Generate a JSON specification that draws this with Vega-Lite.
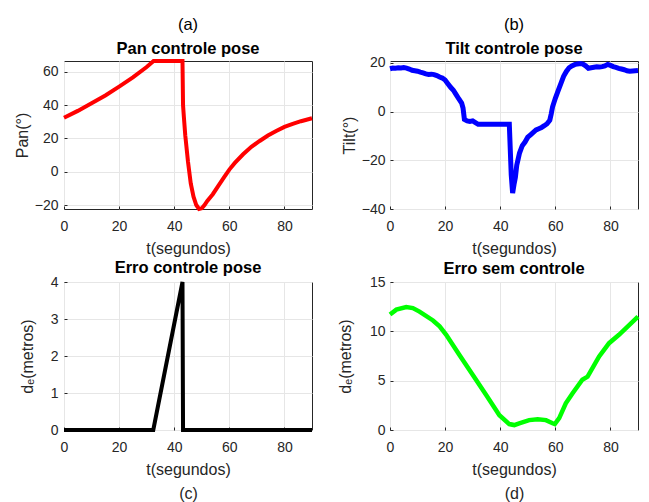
{
  "$schema": "https://vega.github.io/schema/vega-lite/v6.json",
  "padding": {"left": 13, "top": 16, "right": 0, "bottom": 0},
  "background": "white",
  "config": {
    "font": "Liberation Sans",
    "view": {"stroke": "#262626", "strokeWidth": 1},
    "axis": {
      "grid": true, "gridColor": "#e6e6e6", "gridWidth": 1,
      "domain": false, "ticks": true, "tickSize": -3, "tickColor": "#262626",
      "labelFont": "Liberation Sans", "labelFontSize": 14, "labelColor": "#262626",
      "labelFlush": false, "labelOverlap": false,
      "titleFont": "Liberation Sans", "titleFontSize": 16, "titleFontWeight": "normal", "titleColor": "#262626"
    },
    "axisX": {"labelPadding": 13, "titlePadding": 7},
    "axisY": {"labelPadding": 9, "titlePadding": 4},
    "title": {"font": "Liberation Sans", "fontSize": 16.5, "fontWeight": "bold", "color": "#000000", "anchor": "middle", "frame": "group", "offset": -4,
      "subtitleFont": "Liberation Sans", "subtitleFontSize": 16.5, "subtitleFontWeight": "bold", "subtitleColor": "#000000", "subtitlePadding": 7}
  },
  "datasets": {
    "pan": [
      {"t": 0, "v": 32.5}, {"t": 5, "v": 36.6}, {"t": 10, "v": 41.2}, {"t": 15, "v": 45.9}, {"t": 20, "v": 51.2},
      {"t": 25, "v": 56.7}, {"t": 30, "v": 63.0}, {"t": 32.5, "v": 66.6}, {"t": 43, "v": 66.6}, {"t": 43.2, "v": 40},
      {"t": 43.5, "v": 33}, {"t": 44, "v": 22}, {"t": 45, "v": 6}, {"t": 46, "v": -7}, {"t": 47, "v": -15},
      {"t": 48, "v": -20}, {"t": 49, "v": -22.4}, {"t": 50, "v": -22}, {"t": 51, "v": -20}, {"t": 52, "v": -17.5},
      {"t": 54, "v": -13.5}, {"t": 56, "v": -8.5}, {"t": 58, "v": -3.5}, {"t": 60, "v": 1.3}, {"t": 62, "v": 5.3},
      {"t": 65, "v": 10.5}, {"t": 68, "v": 15}, {"t": 71, "v": 18.5}, {"t": 74, "v": 21.8}, {"t": 77, "v": 24.5},
      {"t": 80, "v": 27}, {"t": 83, "v": 28.8}, {"t": 86, "v": 30.4}, {"t": 90, "v": 32.2}
    ],
    "tilt": [
      {"t": 0, "v": 17.6}, {"t": 1, "v": 17.9}, {"t": 2, "v": 17.8}, {"t": 3, "v": 18.0}, {"t": 4, "v": 17.9},
      {"t": 5, "v": 18.1}, {"t": 6, "v": 17.9}, {"t": 7, "v": 17.5}, {"t": 8, "v": 17.0}, {"t": 9, "v": 16.8},
      {"t": 10, "v": 16.6}, {"t": 11, "v": 16.2}, {"t": 12, "v": 15.9}, {"t": 13, "v": 15.5}, {"t": 14, "v": 15.3},
      {"t": 15, "v": 15.4}, {"t": 16, "v": 15.2}, {"t": 17, "v": 14.8}, {"t": 18, "v": 14.2}, {"t": 19, "v": 13.8},
      {"t": 20, "v": 13.0}, {"t": 21, "v": 11.5}, {"t": 22, "v": 10.0}, {"t": 23, "v": 8.8}, {"t": 24, "v": 7.0},
      {"t": 25, "v": 5.2}, {"t": 26, "v": 3.5}, {"t": 26.5, "v": 1.5}, {"t": 27, "v": -3.2}, {"t": 28, "v": -3.8},
      {"t": 29, "v": -4.0}, {"t": 30, "v": -3.8}, {"t": 31, "v": -4.5}, {"t": 32, "v": -5.2}, {"t": 33, "v": -5.2},
      {"t": 43.3, "v": -5.2}, {"t": 44, "v": -26}, {"t": 44.5, "v": -33.5}, {"t": 45, "v": -30}, {"t": 45.5, "v": -27},
      {"t": 46, "v": -22}, {"t": 46.5, "v": -19.5}, {"t": 47, "v": -17}, {"t": 47.5, "v": -15.5}, {"t": 48, "v": -14},
      {"t": 49, "v": -12.5}, {"t": 50, "v": -10.5}, {"t": 51, "v": -9.5}, {"t": 52, "v": -8.5}, {"t": 53, "v": -7.5},
      {"t": 54, "v": -7.0}, {"t": 55, "v": -6.5}, {"t": 56, "v": -5.8}, {"t": 57, "v": -5.0}, {"t": 58, "v": -3.5},
      {"t": 58.5, "v": -1}, {"t": 59, "v": 2}, {"t": 60, "v": 5.5}, {"t": 61, "v": 8.5}, {"t": 62, "v": 11.5},
      {"t": 63, "v": 14.5}, {"t": 64, "v": 16.5}, {"t": 65, "v": 18.0}, {"t": 66, "v": 18.8}, {"t": 67, "v": 19.3},
      {"t": 68, "v": 19.6}, {"t": 69, "v": 19.8}, {"t": 70, "v": 19.5}, {"t": 71, "v": 18.8}, {"t": 72, "v": 17.8},
      {"t": 73, "v": 18.0}, {"t": 74, "v": 18.2}, {"t": 75, "v": 18.4}, {"t": 76, "v": 18.3}, {"t": 77, "v": 18.5},
      {"t": 78, "v": 18.8}, {"t": 79, "v": 19.4}, {"t": 80, "v": 19.0}, {"t": 81, "v": 18.5}, {"t": 82, "v": 18.2},
      {"t": 83, "v": 17.8}, {"t": 84, "v": 17.5}, {"t": 85, "v": 17.2}, {"t": 86, "v": 16.8}, {"t": 87, "v": 16.6},
      {"t": 88, "v": 16.7}, {"t": 89, "v": 16.8}, {"t": 90, "v": 16.9}
    ],
    "erro": [
      {"t": 0, "v": 0}, {"t": 32.4, "v": 0}, {"t": 43, "v": 4}, {"t": 43.2, "v": 0}, {"t": 90, "v": 0}
    ],
    "sem": [
      {"t": 0, "v": 11.7}, {"t": 2.3, "v": 12.2}, {"t": 5.9, "v": 12.46}, {"t": 8.3, "v": 12.36}, {"t": 10.7, "v": 12.0},
      {"t": 15.6, "v": 11.1}, {"t": 18, "v": 10.5}, {"t": 20.4, "v": 9.65}, {"t": 25.2, "v": 7.6}, {"t": 30, "v": 5.6},
      {"t": 34.9, "v": 3.55}, {"t": 39.7, "v": 1.5}, {"t": 43.3, "v": 0.6}, {"t": 45.1, "v": 0.5}, {"t": 46.9, "v": 0.68},
      {"t": 50.5, "v": 1.0}, {"t": 53.6, "v": 1.1}, {"t": 56.6, "v": 1.0}, {"t": 59, "v": 0.68}, {"t": 59.8, "v": 0.6},
      {"t": 61.4, "v": 1.2}, {"t": 63.8, "v": 2.7}, {"t": 66.2, "v": 3.7}, {"t": 69.8, "v": 5.1}, {"t": 71.7, "v": 5.4},
      {"t": 75.9, "v": 7.45}, {"t": 79.5, "v": 8.8}, {"t": 83.1, "v": 9.65}, {"t": 90, "v": 11.5}
    ]
  },
  "bounds": "flush",
  "columns": 2,
  "spacing": {"row": 73, "column": 78},
  "concat": [
    {
      "width": 248, "height": 148,
      "title": {"text": "(a)", "subtitle": "Pan controle pose", "fontWeight": "normal"},
      "data": {"name": "pan"},
      "mark": {"type": "line", "color": "#ff0000", "strokeWidth": 4, "clip": false},
      "encoding": {
        "x": {"field": "t", "type": "quantitative", "scale": {"domain": [0, 90], "nice": false}, "axis": {"values": [0, 20, 40, 60, 80], "title": "t(segundos)"}},
        "y": {"field": "v", "type": "quantitative", "scale": {"domain": [-22.4, 66.6], "nice": false, "zero": false}, "axis": {"values": [-20, 0, 20, 40, 60], "title": "Pan(°)"}}
      }
    },
    {
      "width": 248, "height": 148,
      "title": {"text": "(b)", "subtitle": "Tilt controle pose", "fontWeight": "normal"},
      "data": {"name": "tilt"},
      "mark": {"type": "line", "color": "#0000ff", "strokeWidth": 5, "clip": false},
      "encoding": {
        "x": {"field": "t", "type": "quantitative", "scale": {"domain": [0, 90], "nice": false}, "axis": {"values": [0, 20, 40, 60, 80], "title": "t(segundos)"}},
        "y": {"field": "v", "type": "quantitative", "scale": {"domain": [-40, 20.8], "nice": false, "zero": false}, "axis": {"values": [-40, -20, 0, 20], "title": "Tilt(°)", "titlePadding": 4, "labelPadding": 8}}
      }
    },
    {
      "width": 248, "height": 148,
      "title": {"text": "Erro controle pose", "offset": -2},
      "data": {"name": "erro"},
      "mark": {"type": "line", "color": "#000000", "strokeWidth": 4, "clip": false},
      "encoding": {
        "x": {"field": "t", "type": "quantitative", "scale": {"domain": [0, 90], "nice": false}, "axis": {"values": [0, 20, 40, 60, 80], "title": ["t(segundos)", "(c)"], "titleLineHeight": 24}},
        "y": {"field": "v", "type": "quantitative", "scale": {"domain": [0, 4], "nice": false}, "axis": {"values": [0, 1, 2, 3, 4], "title": "dₑ(metros)", "titlePadding": 15}}
      }
    },
    {
      "width": 248, "height": 148,
      "title": {"text": "Erro sem controle", "offset": -2},
      "data": {"name": "sem"},
      "mark": {"type": "line", "color": "#00ff00", "strokeWidth": 4.5, "clip": false},
      "encoding": {
        "x": {"field": "t", "type": "quantitative", "scale": {"domain": [0, 90], "nice": false}, "axis": {"values": [0, 20, 40, 60, 80], "title": ["t(segundos)", "(d)"], "titleLineHeight": 24}},
        "y": {"field": "v", "type": "quantitative", "scale": {"domain": [0, 15], "nice": false}, "axis": {"values": [0, 5, 10, 15], "title": "dₑ(metros)", "titlePadding": 16, "labelPadding": 8}}
      }
    }
  ]
}
